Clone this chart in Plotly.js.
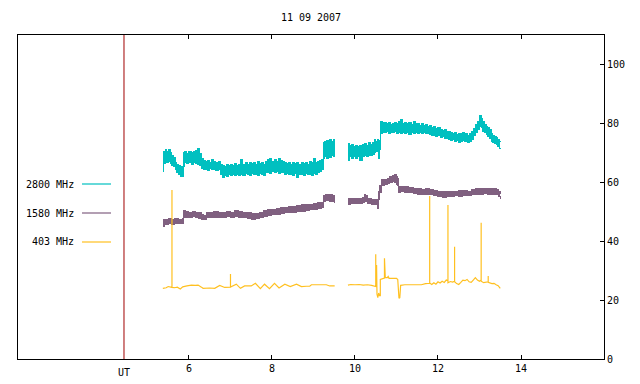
<!DOCTYPE html>
<html>
<head>
<meta charset="utf-8">
<script src="https://cdn.plot.ly/plotly-3.0.1.min.js"></script>
<style>html,body{margin:0;padding:0;background:#fff}#chart{width:640px;height:384px}
#chart svg .scatterlayer path{shape-rendering:crispEdges}
#chart svg .scatterlayer .trace:last-child path{shape-rendering:auto}</style>
</head>
<body>
<div id="chart"></div>
<script>
// ---- data ----
var chartTitle = '11 09 2007';
var seriesNames = ['2800 MHz', '1580 MHz', '403 MHz'];
var seriesColors = ['#00c0c0', '#806080', '#ffc020'];
var xTicks = [6, 8, 10, 12, 14];
var yTicks = [0, 20, 40, 60, 80, 100];
var utMarker = 4.434;

// 2800 MHz: [time UT, band low, band high]
var cyanSeg1 = [
[5.37,63.6,69.0],[5.39,66.5,70.5],[5.43,67.0,71.2],[5.47,66.6,70.6],[5.51,67.2,71.0],[5.55,66.4,70.2],
[5.59,65.8,69.2],[5.63,65.2,68.4],[5.67,64.2,66.8],[5.71,63.4,66.2],[5.75,62.8,65.8],[5.79,62.0,65.2],
[5.84,61.8,64.8],[5.86,65.5,70.0],[5.90,66.8,70.4],[5.95,66.3,69.8],[6.00,66.6,70.6],[6.05,66.2,70.0],
[6.10,66.8,70.4],[6.15,66.4,70.8],[6.20,66.0,71.4],[6.25,65.8,69.8],[6.30,64.8,68.2],[6.35,64.2,67.4],
[6.40,64.4,67.0],[6.45,64.0,67.4],[6.50,64.6,66.8],[6.55,64.2,67.6],[6.60,64.5,67.0],[6.65,64.0,66.6],
[6.70,64.2,67.2],[6.75,62.6,66.0],[6.80,61.6,65.8],[6.85,62.4,65.4],[6.90,62.0,66.2],[6.95,62.6,65.6],
[7.00,62.2,66.0],[7.05,62.8,65.8],[7.10,62.2,66.4],[7.15,62.6,65.8],[7.20,62.4,66.2],[7.25,62.8,67.8],
[7.30,62.4,66.2],[7.35,63.0,66.6],[7.40,62.6,66.0],[7.45,62.2,66.8],[7.50,63.0,66.4],[7.55,62.6,66.8],
[7.60,62.8,66.2],[7.65,62.4,67.0],[7.70,63.0,66.4],[7.75,62.8,66.8],[7.80,62.4,66.2],[7.85,63.2,67.0],
[7.90,63.4,67.6],[7.95,63.0,68.0],[8.00,63.6,67.2],[8.05,63.2,67.8],[8.10,63.8,67.0],[8.15,63.0,68.2],
[8.20,63.4,67.4],[8.25,63.2,67.0],[8.30,62.6,66.6],[8.35,63.0,66.4],[8.40,62.6,66.8],[8.45,62.8,66.2],
[8.50,62.4,66.6],[8.55,63.0,66.4],[8.60,61.6,66.8],[8.65,62.6,66.2],[8.70,62.8,66.8],[8.75,62.4,66.4],
[8.80,63.0,66.8],[8.85,62.6,66.2],[8.90,62.8,67.0],[8.95,62.4,66.6],[9.00,63.0,68.2],[9.05,62.8,66.8],
[9.10,63.2,67.0],[9.15,63.6,67.4],[9.20,64.2,67.8],[9.23,68.0,73.6],[9.27,68.6,73.8],[9.31,68.2,74.2],
[9.35,69.0,73.4],[9.39,68.4,74.4],[9.43,69.2,73.8],[9.47,68.6,74.6],[9.51,69.0,73.2]
];
var cyanSeg2 = [
[9.83,67.5,73.2],[9.87,68.6,72.4],[9.92,68.2,72.8],[9.97,68.8,72.2],[10.02,68.0,72.6],[10.07,68.6,72.0],
[10.12,67.4,72.4],[10.17,68.6,72.8],[10.22,69.0,73.2],[10.27,68.8,72.6],[10.32,69.2,73.4],[10.37,69.0,72.8],
[10.42,69.4,73.6],[10.46,70.2,74.4],[10.50,70.6,74.0],[10.54,70.4,74.6],[10.57,68.2,74.0],[10.60,71.0,74.2],
[10.62,76.6,80.8],[10.66,77.0,80.2],[10.70,76.8,80.4],[10.75,77.2,79.8],[10.80,76.6,80.2],[10.85,77.0,79.6],
[10.90,76.8,80.0],[10.95,77.2,80.4],[11.00,76.4,80.0],[11.05,77.0,80.6],[11.10,76.6,81.2],[11.15,76.8,80.0],
[11.20,76.4,80.4],[11.25,77.0,79.8],[11.30,76.2,80.2],[11.35,76.8,79.6],[11.40,76.6,80.6],[11.45,76.8,79.8],
[11.50,76.4,80.0],[11.55,77.0,79.4],[11.60,76.6,79.8],[11.65,76.8,79.2],[11.70,76.4,79.6],[11.75,76.6,79.0],
[11.80,76.2,79.2],[11.85,75.8,78.6],[11.90,76.0,78.8],[11.95,75.6,78.4],[12.00,75.8,78.6],[12.05,75.2,78.0],
[12.10,75.4,77.6],[12.15,74.8,77.8],[12.20,75.0,77.4],[12.25,74.6,77.2],[12.30,74.2,76.8],[12.35,74.4,76.4],
[12.40,73.8,76.8],[12.45,74.2,76.2],[12.50,73.6,76.6],[12.55,74.0,76.4],[12.60,74.2,76.8],[12.65,73.8,76.4],
[12.70,73.6,76.0],[12.75,74.0,76.4],[12.80,74.6,77.2],[12.85,75.8,78.4],[12.90,76.8,79.6],[12.95,77.8,80.8],
[13.00,79.0,82.6],[13.04,78.6,81.8],[13.08,77.4,80.6],[13.12,76.8,79.6],[13.16,76.2,79.0],[13.20,75.6,78.6],
[13.24,75.0,77.8],[13.28,74.0,76.6],[13.32,73.6,76.0],[13.36,73.2,75.6],[13.40,72.8,75.2],[13.44,72.2,74.6],
[13.48,71.6,74.0],[13.50,71.2,73.6]
];

// 1580 MHz: [time UT, band low, band high]
var purpleSeg1 = [
[5.37,44.9,47.2],[5.42,45.8,47.4],[5.50,45.9,47.6],[5.58,45.8,47.4],[5.66,46.0,47.6],[5.74,45.9,47.5],
[5.84,46.0,47.8],[5.86,48.0,50.4],[5.92,48.2,50.0],[6.00,48.0,49.8],[6.08,48.3,50.2],[6.16,48.0,49.7],
[6.24,47.8,49.6],[6.30,47.3,49.0],[6.36,47.4,48.8],[6.42,47.9,49.6],[6.50,48.0,49.8],[6.60,48.1,50.0],
[6.70,48.0,49.7],[6.80,48.2,49.9],[6.90,48.3,50.1],[7.00,48.2,49.9],[7.10,48.4,50.3],[7.20,48.2,50.0],
[7.30,48.1,49.8],[7.40,47.6,49.6],[7.50,47.5,49.4],[7.60,47.6,49.5],[7.70,48.0,49.9],[7.80,48.5,50.3],
[7.90,48.8,50.6],[8.00,49.0,50.8],[8.10,49.2,51.0],[8.20,49.4,51.3],[8.30,49.6,51.5],[8.40,49.8,51.8],
[8.50,49.9,51.9],[8.60,50.0,52.1],[8.70,50.2,52.3],[8.80,50.5,52.5],[8.90,50.7,52.6],[9.00,50.9,52.8],
[9.10,51.1,53.0],[9.20,51.3,53.2],[9.23,53.5,55.6],[9.30,53.7,55.8],[9.38,53.6,56.0],[9.45,53.4,55.6],
[9.51,52.8,55.0]
];
var purpleSeg2 = [
[9.83,52.6,54.6],[9.90,52.8,54.4],[10.00,52.7,54.6],[10.10,52.9,54.5],[10.18,53.2,55.0],[10.22,54.0,56.0],
[10.26,53.6,55.6],[10.30,52.8,54.4],[10.40,52.6,54.3],[10.50,52.4,54.2],[10.54,51.0,54.0],[10.57,54.0,56.8],
[10.60,56.5,59.0],[10.63,59.0,60.8],[10.70,59.2,61.0],[10.78,59.6,61.4],[10.84,60.0,62.0],[10.90,60.2,62.4],
[10.96,60.0,62.8],[11.00,59.4,61.8],[11.03,59.0,61.2],[11.04,56.5,58.5],[11.10,56.8,58.6],[11.20,56.6,58.4],
[11.30,56.5,58.2],[11.40,56.2,58.0],[11.50,56.0,57.8],[11.60,55.9,57.6],[11.70,56.0,57.8],[11.80,55.9,57.6],
[11.90,55.6,57.2],[12.00,55.2,56.8],[12.10,55.0,56.8],[12.20,55.1,56.9],[12.30,55.3,57.0],[12.40,55.4,57.0],
[12.50,55.3,57.1],[12.60,55.5,57.2],[12.70,55.4,57.0],[12.80,55.8,57.6],[12.90,56.0,57.8],[13.00,56.0,58.0],
[13.10,56.1,57.9],[13.20,55.9,57.8],[13.30,56.0,57.9],[13.40,55.8,57.6],[13.45,55.2,57.0],[13.50,54.2,56.0]
];

// 403 MHz: [time UT, value]; spikes are vertical (same time), null marks the data gap
var orangeData = [
[5.37,24.0],[5.45,24.2],[5.50,24.6],[5.55,24.3],[5.59,24.3],[5.59,57.4],[5.59,24.3],[5.65,24.2],
[5.72,24.4],[5.79,23.8],[5.85,24.5],[5.95,24.8],[6.06,25.1],[6.15,25.0],[6.22,25.1],[6.30,24.4],
[6.34,24.0],[6.50,24.1],[6.62,24.0],[6.74,25.0],[6.86,24.3],[7.00,24.4],[7.00,28.9],[7.00,24.4],
[7.14,25.4],[7.24,24.0],[7.34,24.8],[7.50,24.8],[7.60,25.7],[7.72,23.9],[7.82,25.4],[7.94,23.9],
[8.06,25.7],[8.17,24.1],[8.31,25.4],[8.44,24.6],[8.59,25.4],[8.71,24.6],[8.83,24.7],[8.91,24.7],
[8.95,25.2],[9.31,25.2],[9.39,24.8],[9.51,24.8],[9.67,null],
[9.83,25.1],[9.90,25.3],[10.00,25.2],[10.10,25.3],[10.20,25.1],[10.30,25.2],[10.40,25.0],[10.46,24.9],
[10.50,24.6],[10.50,35.6],[10.50,24.8],[10.52,24.8],[10.52,31.9],[10.53,22.0],[10.55,20.8],[10.57,22.4],
[10.59,21.5],[10.61,21.5],[10.61,27.0],[10.65,27.3],[10.71,27.5],[10.71,34.2],[10.72,31.6],[10.73,27.6],
[10.78,27.6],[10.80,28.0],[10.82,27.4],[10.90,27.3],[10.97,27.2],[11.00,27.4],[11.03,27.0],[11.04,22.2],
[11.06,20.6],[11.08,20.8],[11.10,25.0],[11.20,25.2],[11.30,25.2],[11.40,25.1],[11.50,25.3],[11.60,25.2],
[11.70,25.6],[11.80,25.7],[11.80,55.3],[11.80,25.8],[11.85,25.3],[11.90,25.9],[11.95,25.4],[12.00,26.2],
[12.05,25.8],[12.10,26.4],[12.15,26.0],[12.20,26.8],[12.24,26.6],[12.24,52.3],[12.24,25.9],[12.30,26.3],
[12.35,26.1],[12.40,26.4],[12.40,38.1],[12.40,26.2],[12.45,25.6],[12.50,25.3],[12.55,26.0],[12.60,26.8],
[12.65,26.6],[12.70,27.0],[12.75,26.2],[12.80,26.0],[12.85,26.8],[12.90,27.6],[12.95,26.8],[13.00,26.4],
[13.04,26.8],[13.04,46.3],[13.04,26.4],[13.10,25.9],[13.15,26.0],[13.21,26.2],[13.21,28.2],[13.21,26.0],
[13.30,25.6],[13.35,25.7],[13.40,25.2],[13.45,24.9],[13.50,24.0]
];

// ---- build traces ----
function col(arr, i) { return arr.map(function (r) { return r[i]; }); }
function band(seg, color) {
  var x = col(seg, 0);
  return [
    {x: x, y: col(seg, 1), type: 'scatter', mode: 'lines', line: {color: color, width: 1, shape: 'hv'},
     hoverinfo: 'skip', showlegend: false},
    {x: x, y: col(seg, 2), type: 'scatter', mode: 'lines', line: {color: color, width: 1, shape: 'hv'},
     fill: 'tonexty', fillcolor: color, hoverinfo: 'skip', showlegend: false}
  ];
}
var traces = [];
traces = traces.concat(band(cyanSeg1, seriesColors[0]), band(cyanSeg2, seriesColors[0]));
traces = traces.concat(band(purpleSeg1, seriesColors[1]), band(purpleSeg2, seriesColors[1]));
traces.push({x: col(orangeData, 0), y: col(orangeData, 1), type: 'scatter', mode: 'lines',
  line: {color: seriesColors[2], width: 1.2}, connectgaps: false, hoverinfo: 'skip', showlegend: false});

var FONT = 'DejaVu Sans Mono, monospace';
var L = 18, R = 36, T = 35, B = 25, W = 640, H = 384;
var pw = W - L - R, ph = H - T - B;
function px2x(p) { return (p - L) / pw; }
function px2y(p) { return (H - B - p) / ph; }

var legendY = [184, 213, 242];
var annotations = [];
var shapes = [{type: 'line', xref: 'x', yref: 'paper', x0: utMarker, x1: utMarker, y0: 0, y1: 1,
  line: {color: '#a00000', width: 1}}];
for (var i = 0; i < seriesNames.length; i++) {
  annotations.push({xref: 'paper', yref: 'paper', x: px2x(76), y: px2y(legendY[i]),
    xanchor: 'right', yanchor: 'middle', text: seriesNames[i], showarrow: false,
    font: {family: FONT, size: 10, color: '#000'}});
  shapes.push({type: 'line', xref: 'paper', yref: 'paper', x0: px2x(82), x1: px2x(111),
    y0: px2y(legendY[i]), y1: px2y(legendY[i]), line: {color: seriesColors[i], width: 1.2}});
}
annotations.push({xref: 'x', yref: 'paper', x: utMarker, y: px2y(372), xanchor: 'center',
  yanchor: 'middle', text: 'UT', showarrow: false, font: {family: FONT, size: 10, color: '#000'}});

var layout = {
  width: W, height: H,
  margin: {l: L, r: R, t: T, b: B, pad: 0},
  paper_bgcolor: '#fff', plot_bgcolor: '#fff',
  font: {family: FONT, size: 10, color: '#000'},
  title: {text: chartTitle, x: 0.5, xref: 'paper', y: 1 - 17 / H, yref: 'container',
    xanchor: 'center', yanchor: 'middle', font: {family: FONT, size: 10, color: '#000'}},
  showlegend: false,
  xaxis: {range: [1.88, 16.0], tickvals: xTicks, ticktext: xTicks.map(String), ticks: 'inside',
    ticklen: 4, tickcolor: '#000', showline: true, linecolor: '#000', linewidth: 1, mirror: 'ticks',
    showgrid: false, zeroline: false, tickfont: {family: FONT, size: 10, color: '#000'}},
  yaxis: {range: [0, 110], side: 'right', tickvals: yTicks, ticktext: yTicks.map(String),
    ticks: 'inside', ticklen: 4, tickcolor: '#000', showline: true, linecolor: '#000', linewidth: 1,
    mirror: true, showgrid: false, zeroline: false, tickfont: {family: FONT, size: 10, color: '#000'}},
  annotations: annotations,
  shapes: shapes
};
Plotly.newPlot('chart', traces, layout, {staticPlot: true, displayModeBar: false});
</script>
</body>
</html>
